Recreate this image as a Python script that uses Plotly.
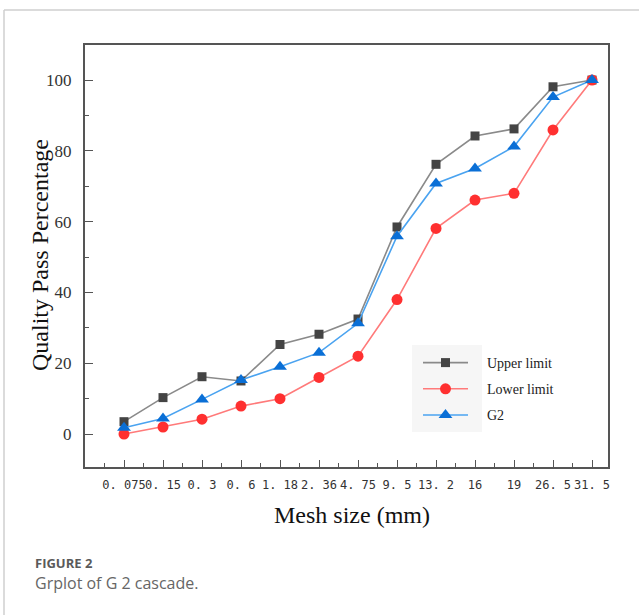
import plotly.graph_objects as go

mesh_labels = ["0. 075", "0. 15", "0. 3", "0. 6", "1. 18", "2. 36", "4. 75",
               "9. 5", "13. 2", "16", "19", "26. 5", "31. 5"]
upper_limit = [3.5, 10.3, 16.2, 15, 25.3, 28.2, 32.5, 58.5, 76.2, 84.2, 86.2, 98.1, 100]
lower_limit = [0, 2, 4.2, 7.9, 10, 16, 22, 38, 58.1, 66.1, 68, 85.9, 100]
g2_values = [1.8, 4.4, 9.8, 15.3, 19, 23, 31.3, 55.9, 70.8, 75, 81.2, 95.2, 100]
y_ticks = [0, 20, 40, 60, 80, 100]

idx = list(range(len(mesh_labels)))
pad = "&nbsp;" * 4

fig = go.Figure()
fig.add_trace(go.Scatter(
    x=idx, y=upper_limit, mode="lines+markers", name=pad + "Upper limit",
    legendgroup="a",
    line=dict(color="#8a8a8a", width=1.6),
    marker=dict(symbol="square", size=9, color="#444444")))
fig.add_trace(go.Scatter(
    x=idx, y=lower_limit, mode="lines+markers", name=pad + "Lower limit",
    legendgroup="b",
    line=dict(color="#ff7a7a", width=1.6),
    marker=dict(symbol="circle", size=11, color="#ff3030")))
fig.add_trace(go.Scatter(
    x=idx, y=g2_values, mode="lines+markers", name=pad + "G2",
    legendgroup="c",
    line=dict(color="#4aa3f0", width=1.6),
    marker=dict(symbol="triangle-up", size=12, color="#0a6fd6")))

L, R, T, B = 85, 608, 45, 467
W, H = 639, 615
pw, ph = R - L, B - T


def px(x):
    return (x - L) / pw


def py(y):
    return (B - y) / ph


fig.update_layout(
    width=W, height=H,
    margin=dict(l=L, r=W - R, t=T, b=H - B, pad=0),
    paper_bgcolor="white", plot_bgcolor="white",
    showlegend=True,
    legend=dict(
        x=px(418), y=py(347), xanchor="left", yanchor="top",
        bgcolor="rgba(0,0,0,0)", borderwidth=0,
        font=dict(family="Liberation Serif", size=14, color="#222"),
        tracegroupgap=5, itemwidth=45,
    ),
    shapes=[
        dict(type="rect", xref="paper", yref="paper",
             x0=px(412), x1=px(482), y0=py(432), y1=py(345),
             fillcolor="#f6f6f6", line=dict(width=0), layer="below"),
        dict(type="line", xref="paper", yref="paper",
             x0=px(4), x1=px(639), y0=py(10), y1=py(10),
             line=dict(color="#cfcfcf", width=1.5)),
        dict(type="line", xref="paper", yref="paper",
             x0=px(4), x1=px(4), y0=py(10), y1=py(615),
             line=dict(color="#cfcfcf", width=1.5)),
    ],
    annotations=[
        dict(text="Quality Pass Percentage", xref="paper", yref="paper",
             x=px(40), y=py(255), xanchor="center", yanchor="middle",
             textangle=-90, showarrow=False,
             font=dict(family="Liberation Serif", size=24, color="#111111")),
        dict(text="Mesh size (mm)", xref="paper", yref="paper",
             x=px(352), y=py(515), xanchor="center", yanchor="middle",
             showarrow=False,
             font=dict(family="Liberation Serif", size=24, color="#111111")),
        dict(text="<b>FIGURE 2</b>", xref="paper", yref="paper",
             x=px(33), y=py(563), xanchor="left", yanchor="middle",
             showarrow=False,
             font=dict(family="Open Sans", size=13, color="#5a5a5a")),
        dict(text="Grplot of G 2 cascade.", xref="paper", yref="paper",
             x=px(33), y=py(583), xanchor="left", yanchor="middle",
             showarrow=False,
             font=dict(family="Open Sans", size=16, color="#666666")),
    ],
)

fig.update_xaxes(
    range=[-1, 12.41], tickmode="array", tickvals=idx, ticktext=mesh_labels,
    tickangle=0,
    showline=True, linecolor="#555555", linewidth=2, mirror=True,
    showgrid=False, zeroline=False,
    ticks="inside", ticklen=7, tickwidth=1.2, tickcolor="#555555",
    ticklabelstandoff=6,
    minor=dict(tickmode="array", tickvals=[i - 0.5 for i in idx] + [12.5],
               ticks="inside", ticklen=4, tickwidth=1.2, tickcolor="#555555",
               showgrid=False),
    tickfont=dict(family="DejaVu Sans Mono", size=12, color="#333333"),
)
fig.update_yaxes(
    range=[-9.3, 109.9], tickmode="array", tickvals=y_ticks,
    showline=True, linecolor="#555555", linewidth=2, mirror=True,
    showgrid=False, zeroline=False,
    ticks="inside", ticklen=8, tickwidth=1.2, tickcolor="#555555",
    ticklabelstandoff=8,
    minor=dict(tickmode="array", tickvals=[10, 30, 50, 70, 90],
               ticks="inside", ticklen=4, tickwidth=1.2, tickcolor="#555555",
               showgrid=False),
    tickfont=dict(family="Liberation Serif", size=17, color="#333333"),
)

fig.write_html("out.html")
